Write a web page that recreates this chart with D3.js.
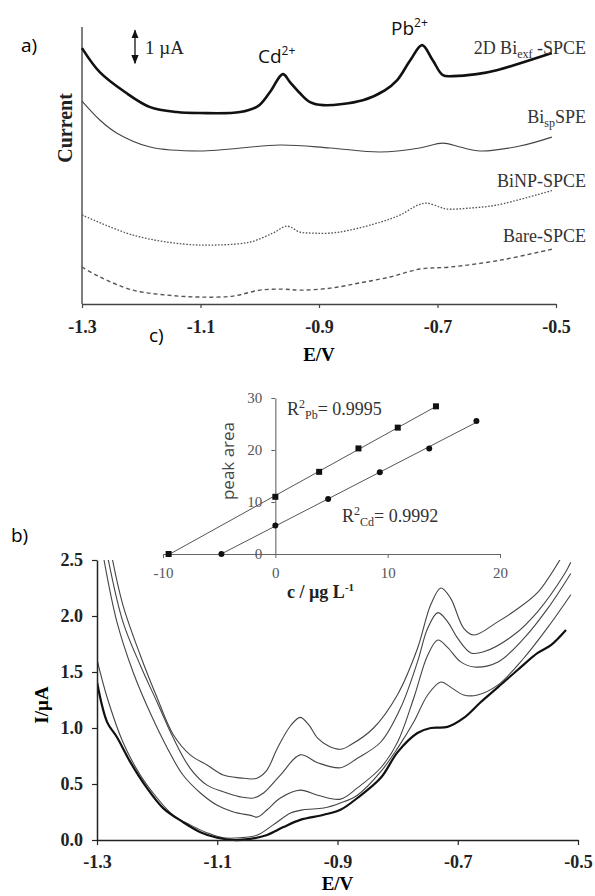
<!DOCTYPE html>
<html>
<head>
<meta charset="utf-8">
<script src="https://cdn.jsdelivr.net/npm/d3@7"></script>
<style>
  body { margin: 0; background: #fff; }
  svg { display: block; }
</style>
</head>
<body>
<div id="chart"></div>
<script>
// ---- data: panel a, stripping voltammograms (E / V, current offset in uA) ----
const ticksE = [-1.3, -1.1, -0.9, -0.7, -0.5];

const aBiExf = [[-1.3,7.76],[-1.27,7.03],[-1.227,6.42],[-1.185,5.97],[-1.14,5.82],[-1.101,5.79],[-1.033,5.82],[-1.003,6.0],[-0.983,6.42],[-0.961,6.97],[-0.949,6.73],[-0.932,6.39],[-0.915,6.12],[-0.893,6.03],[-0.826,6.18],[-0.789,6.48],[-0.768,6.79],[-0.746,7.39],[-0.726,7.85],[-0.708,7.39],[-0.691,6.94],[-0.674,6.91],[-0.634,6.97],[-0.6,7.09],[-0.507,7.61]];
const aBiSp = [[-1.3,6.15],[-1.27,5.58],[-1.241,5.18],[-1.185,4.76],[-1.101,4.64],[-0.966,4.82],[-0.881,4.73],[-0.797,4.61],[-0.73,4.73],[-0.691,4.88],[-0.662,4.76],[-0.628,4.64],[-0.561,4.79],[-0.507,5.06]];
const aBiNP = [[-1.3,2.70],[-1.214,2.09],[-1.13,1.82],[-1.072,1.79],[-1.016,1.88],[-0.978,2.15],[-0.954,2.36],[-0.932,2.18],[-0.91,2.15],[-0.881,2.15],[-0.848,2.24],[-0.797,2.48],[-0.763,2.70],[-0.733,3.0],[-0.718,3.06],[-0.696,2.94],[-0.684,2.88],[-0.645,2.91],[-0.6,3.0],[-0.505,3.45]];
const aBare = [[-1.3,1.12],[-1.27,0.82],[-1.214,0.42],[-1.157,0.27],[-1.101,0.21],[-1.045,0.24],[-1.0,0.42],[-0.961,0.45],[-0.932,0.42],[-0.881,0.48],[-0.831,0.64],[-0.78,0.82],[-0.73,1.06],[-0.679,1.12],[-0.594,1.33],[-0.505,1.67]];

// ---- data: panel b, increasing concentrations (I / uA) ----
const ticksI = [0, 0.5, 1.0, 1.5, 2.0, 2.5];
const bCurveA = [[-1.276,2.55],[-1.257,2.10],[-1.228,1.65],[-1.2,1.27],[-1.173,0.94],[-1.145,0.76],[-1.117,0.67],[-1.09,0.58],[-1.062,0.555],[-1.035,0.55],[-1.018,0.62],[-1.0,0.82],[-0.978,1.02],[-0.962,1.095],[-0.948,1.03],[-0.933,0.91],[-0.915,0.84],[-0.895,0.81],[-0.878,0.85],[-0.84,1.0],[-0.8,1.30],[-0.767,1.71],[-0.745,2.10],[-0.728,2.25],[-0.712,2.16],[-0.69,1.89],[-0.673,1.83],[-0.633,1.95],[-0.607,2.04],[-0.567,2.21],[-0.528,2.52]];
const bCurveB = [[-1.283,2.55],[-1.257,1.95],[-1.228,1.56],[-1.2,1.23],[-1.173,0.91],[-1.145,0.64],[-1.117,0.49],[-1.09,0.43],[-1.062,0.385],[-1.04,0.375],[-1.023,0.42],[-0.995,0.58],[-0.962,0.76],[-0.933,0.69],[-0.895,0.645],[-0.867,0.73],[-0.828,0.875],[-0.795,1.18],[-0.767,1.59],[-0.75,1.89],[-0.733,2.03],[-0.717,1.95],[-0.7,1.80],[-0.678,1.67],[-0.657,1.68],[-0.607,1.83],[-0.567,2.04],[-0.523,2.37],[-0.512,2.48]];
const bCurveC = [[-1.29,2.55],[-1.267,1.95],[-1.24,1.50],[-1.212,1.14],[-1.183,0.82],[-1.157,0.58],[-1.128,0.42],[-1.1,0.31],[-1.073,0.25],[-1.045,0.22],[-1.033,0.205],[-1.017,0.27],[-0.995,0.375],[-0.962,0.445],[-0.933,0.40],[-0.895,0.365],[-0.867,0.465],[-0.828,0.645],[-0.8,0.875],[-0.773,1.27],[-0.75,1.65],[-0.733,1.785],[-0.717,1.72],[-0.695,1.59],[-0.673,1.545],[-0.633,1.59],[-0.59,1.80],[-0.55,2.07],[-0.512,2.38]];
const bCurveD = [[-1.3,1.61],[-1.283,1.27],[-1.257,0.875],[-1.228,0.58],[-1.2,0.375],[-1.173,0.22],[-1.145,0.135],[-1.117,0.065],[-1.09,0.02],[-1.062,0.02],[-1.033,0.045],[-1.007,0.135],[-0.978,0.24],[-0.957,0.27],[-0.923,0.285],[-0.895,0.33],[-0.867,0.40],[-0.828,0.61],[-0.8,0.82],[-0.773,1.055],[-0.75,1.295],[-0.728,1.41],[-0.712,1.365],[-0.69,1.295],[-0.667,1.295],[-0.633,1.385],[-0.59,1.625],[-0.55,1.90],[-0.512,2.19]];
const bBlank = [[-1.3,1.41],[-1.283,1.05],[-1.267,0.92],[-1.245,0.70],[-1.217,0.465],[-1.19,0.285],[-1.157,0.16],[-1.128,0.07],[-1.1,0.02],[-1.073,0.0],[-1.045,0.01],[-1.017,0.045],[-0.99,0.115],[-0.962,0.18],[-0.923,0.225],[-0.895,0.27],[-0.867,0.375],[-0.828,0.555],[-0.8,0.785],[-0.767,0.955],[-0.745,1.0],[-0.717,1.01],[-0.69,1.09],[-0.662,1.23],[-0.633,1.365],[-0.6,1.52],[-0.567,1.67],[-0.545,1.74],[-0.52,1.875]];

// ---- data: panel c, standard addition (c / ug L-1, peak area) ----
const ticksC = [-10, 0, 10, 20];
const ticksArea = [0, 10, 20, 30];
const pbConc = [-9.5, 0, 3.9, 7.4, 10.9, 14.3];
const pbArea = [0, 11.0, 15.8, 20.3, 24.3, 28.4];
const cdConc = [-4.8, 0, 4.7, 9.3, 13.7, 17.9];
const cdArea = [0, 5.5, 10.6, 15.7, 20.3, 25.6];

const serif = '"Liberation Serif", "Times New Roman", serif';
const sans = '"Open Sans", "Liberation Sans", sans-serif';

const svg = d3.select('#chart').append('svg')
    .attr('width', 595)
    .attr('height', 896);

const fmt = (d) => d.toFixed(1);

// ================= panel a =================
const xa = d3.scaleLinear().domain([-1.3, -0.5]).range([82, 556]);
const ya = d3.scaleLinear().domain([0, 8.4]).range([304, 27]);
const lineA = d3.line().x((d) => xa(d[0])).y((d) => ya(d[1])).curve(d3.curveCatmullRom.alpha(0.5));

const gA = svg.append('g');

gA.append('line')
    .attr('x1', xa(-1.3)).attr('x2', xa(-1.3))
    .attr('y1', ya(8.4)).attr('y2', ya(0))
    .attr('stroke', '#555').attr('stroke-width', 1.5);

const axA = gA.append('g')
    .attr('transform', 'translate(0,' + ya(0) + ')')
    .call(d3.axisBottom(xa).tickValues(ticksE).tickFormat(fmt).tickSize(4).tickSizeOuter(0));
axA.select('.domain').attr('stroke', '#444').attr('stroke-width', 1.5);
axA.selectAll('.tick line').attr('stroke', '#444').attr('stroke-width', 1.2);
axA.selectAll('.tick text')
    .attr('dy', null).attr('y', 29)
    .style('font-family', serif).style('font-size', '18px').style('font-weight', 'bold').attr('fill', '#222');

gA.append('text')
    .attr('x', xa(-0.9)).attr('y', 361)
    .attr('text-anchor', 'middle')
    .style('font-family', serif).style('font-size', '19px').style('font-weight', 'bold')
    .text('E/V');

gA.append('text')
    .attr('transform', 'translate(72,128) rotate(-90)')
    .attr('text-anchor', 'middle')
    .style('font-family', serif).style('font-size', '20px').style('font-weight', 'bold')
    .attr('fill', '#222')
    .text('Current');

const seriesA = [
    {data: aBiExf, width: 2.6, color: '#111', dash: null},
    {data: aBiSp, width: 1.1, color: '#444', dash: null},
    {data: aBiNP, width: 1.3, color: '#555', dash: '1.6,1.6'},
    {data: aBare, width: 1.4, color: '#555', dash: '4,3'},
];
gA.selectAll('.curveA')
    .data(seriesA)
    .enter().append('path')
    .attr('class', 'curveA')
    .attr('fill', 'none')
    .attr('d', (d) => lineA(d.data))
    .attr('stroke', (d) => d.color)
    .attr('stroke-width', (d) => d.width)
    .attr('stroke-dasharray', (d) => d.dash);

// curve labels
const labelA = (y) => gA.append('text')
    .attr('x', 586).attr('y', y)
    .attr('text-anchor', 'end')
    .style('font-family', serif).style('font-size', '18px')
    .attr('fill', '#333');

const l1 = labelA(54);
l1.append('tspan').text('2D Bi');
l1.append('tspan').attr('dy', 4).style('font-size', '12px').text('exf');
l1.append('tspan').attr('dy', -4).text(' -SPCE');

const l2 = labelA(123);
l2.append('tspan').text('Bi');
l2.append('tspan').attr('dy', 4).style('font-size', '12px').text('sp');
l2.append('tspan').attr('dy', -4).text('SPE');

labelA(187).text('BiNP-SPCE');
labelA(242).text('Bare-SPCE');

// peak labels
const peak = (x, y, el) => {
    const t = gA.append('text').attr('x', x).attr('y', y)
        .style('font-family', sans).style('font-size', '19px').attr('fill', '#111');
    t.append('tspan').text(el);
    t.append('tspan').attr('dy', -8).style('font-size', '12px').text('2+');
    return t;
};
peak(258, 63, 'Cd');
peak(391, 35, 'Pb');

gA.append('text')
    .attr('x', 21).attr('y', 52)
    .style('font-family', sans).style('font-size', '19px')
    .text('a)');

// 1 uA scale bar
const defs = svg.append('defs');
defs.append('marker')
    .attr('id', 'arr')
    .attr('viewBox', '0 0 10 10')
    .attr('refX', 9).attr('refY', 5)
    .attr('markerWidth', 7).attr('markerHeight', 7)
    .attr('orient', 'auto-start-reverse')
    .append('path').attr('d', 'M0,1 L10,5 L0,9 Z').attr('fill', '#111');

gA.append('line')
    .attr('x1', 135).attr('x2', 135)
    .attr('y1', ya(7.3)).attr('y2', ya(8.3))
    .attr('stroke', '#111').attr('stroke-width', 1.3)
    .attr('marker-start', 'url(#arr)').attr('marker-end', 'url(#arr)');
gA.append('text')
    .attr('x', 145).attr('y', 54)
    .style('font-family', serif).style('font-size', '19px')
    .attr('fill', '#222')
    .text('1 \u00b5A');

// ================= panel b =================
const xb = d3.scaleLinear().domain([-1.3, -0.5]).range([97, 578]);
const yb = d3.scaleLinear().domain([0, 2.5]).range([840, 560]);
const lineB = d3.line().x((d) => xb(d[0])).y((d) => yb(d[1])).curve(d3.curveCatmullRom.alpha(0.5));

const gB = svg.append('g');

defs.append('clipPath').attr('id', 'clipB')
    .append('rect')
    .attr('x', xb(-1.3)).attr('y', yb(2.5))
    .attr('width', xb(-0.5) - xb(-1.3) + 10).attr('height', yb(0) - yb(2.5) + 2);

const seriesB = [
    {data: bCurveA, width: 1.1},
    {data: bCurveB, width: 1.1},
    {data: bCurveC, width: 1.1},
    {data: bCurveD, width: 1.1},
    {data: bBlank, width: 2.2},
];
gB.append('g').attr('clip-path', 'url(#clipB)')
    .selectAll('path')
    .data(seriesB)
    .enter().append('path')
    .attr('fill', 'none')
    .attr('stroke', (d) => d.width > 2 ? '#111' : '#444')
    .attr('stroke-width', (d) => d.width)
    .attr('d', (d) => lineB(d.data));

const axBx = gB.append('g')
    .attr('transform', 'translate(0,' + yb(0) + ')')
    .call(d3.axisBottom(xb).tickValues(ticksE).tickFormat(fmt).tickSize(5).tickSizeOuter(0));
const axBy = gB.append('g')
    .attr('transform', 'translate(' + xb(-1.3) + ',0)')
    .call(d3.axisLeft(yb).tickValues(ticksI).tickFormat(fmt).tickSize(5).tickSizeOuter(0));
[axBx, axBy].forEach((ax) => {
    ax.select('.domain').attr('stroke', '#222').attr('stroke-width', 1.5);
    ax.selectAll('.tick line').attr('stroke', '#222').attr('stroke-width', 1.2);
    ax.selectAll('.tick text')
        .style('font-family', serif).style('font-size', '18px').style('font-weight', 'bold').attr('fill', '#222');
});
axBx.selectAll('.tick text').attr('dy', null).attr('y', 28);
axBy.selectAll('.tick text').attr('x', -14);

gB.append('text')
    .attr('x', xb(-0.9)).attr('y', 890)
    .attr('text-anchor', 'middle')
    .style('font-family', serif).style('font-size', '19px').style('font-weight', 'bold')
    .text('E/V');

gB.append('text')
    .attr('transform', 'translate(48,705) rotate(-90)')
    .attr('text-anchor', 'middle')
    .style('font-family', serif).style('font-size', '19px').style('font-weight', 'bold')
    .text('I/\u00b5A');

gB.append('text')
    .attr('x', 11).attr('y', 542)
    .style('font-family', sans).style('font-size', '19px')
    .text('b)');

// ================= panel c (inset) =================
const xc = d3.scaleLinear().domain([-10, 20]).range([163, 500]);
const yc = d3.scaleLinear().domain([0, 30]).range([554, 398]);

const gC = svg.append('g');

const axCx = gC.append('g')
    .attr('transform', 'translate(0,' + yc(0) + ')')
    .call(d3.axisBottom(xc).tickValues(ticksC).tickFormat((d) => d).tickSize(4).tickSizeOuter(0));
const axCy = gC.append('g')
    .attr('transform', 'translate(' + xc(0) + ',0)')
    .call(d3.axisLeft(yc).tickValues(ticksArea).tickFormat((d) => d).tickSize(4).tickSizeOuter(0));
[axCx, axCy].forEach((ax) => {
    ax.select('.domain').attr('stroke', '#666').attr('stroke-width', 1.1);
    ax.selectAll('.tick line').attr('stroke', '#666');
    ax.selectAll('.tick text')
        .style('font-family', serif).style('font-size', '15px').attr('fill', '#555');
});
axCx.selectAll('.tick text').attr('dy', null).attr('y', 24);
axCy.selectAll('.tick text').attr('x', -13);

// regression lines
function fit(xs, ys) {
    const mx = d3.mean(xs), my = d3.mean(ys);
    const b = d3.sum(xs, (x, i) => (x - mx) * (ys[i] - my)) / d3.sum(xs, (x) => (x - mx) * (x - mx));
    return [b, my - b * mx];
}
[[pbConc, pbArea], [cdConc, cdArea]].forEach(([xs, ys]) => {
    const [b, a] = fit(xs, ys);
    const x0 = d3.min(xs), x1 = d3.max(xs);
    gC.append('line')
        .attr('x1', xc(x0)).attr('y1', yc(a + b * x0))
        .attr('x2', xc(x1)).attr('y2', yc(a + b * x1))
        .attr('stroke', '#555').attr('stroke-width', 1);
});

gC.selectAll('.pb')
    .data(pbConc)
    .enter().append('rect')
    .attr('class', 'pb')
    .attr('x', (d) => xc(d) - 3)
    .attr('y', (d, i) => yc(pbArea[i]) - 3)
    .attr('width', 6).attr('height', 6)
    .attr('fill', '#111');

gC.selectAll('.cd')
    .data(cdConc)
    .enter().append('circle')
    .attr('class', 'cd')
    .attr('cx', (d) => xc(d))
    .attr('cy', (d, i) => yc(cdArea[i]))
    .attr('r', 3)
    .attr('fill', '#111');

const r2 = (x, y, el, val) => {
    const t = gC.append('text').attr('x', x).attr('y', y)
        .style('font-family', serif).style('font-size', '18px').attr('fill', '#333');
    t.append('tspan').text('R');
    t.append('tspan').attr('dy', -7).style('font-size', '12px').text('2');
    t.append('tspan').attr('dy', 11).style('font-size', '12px').text(el);
    t.append('tspan').attr('dy', -4).text('= ' + val);
};
r2(287, 415, 'Pb', '0.9995');
r2(342, 522, 'Cd', '0.9992');

gC.append('text')
    .attr('transform', 'translate(234,461) rotate(-90)')
    .attr('text-anchor', 'middle')
    .style('font-family', sans).style('font-size', '17px')
    .attr('fill', '#444')
    .text('peak area');

const cl = gC.append('text')
    .attr('x', 287).attr('y', 598)
    .style('font-family', serif).style('font-size', '18px').style('font-weight', 'bold')
    .attr('fill', '#222');
cl.append('tspan').text('c / \u00b5g L');
cl.append('tspan').attr('dy', -7).style('font-size', '11px').text('-1');

gC.append('text')
    .attr('x', 149).attr('y', 342)
    .style('font-family', sans).style('font-size', '19px')
    .text('c)');
</script>
</body>
</html>
